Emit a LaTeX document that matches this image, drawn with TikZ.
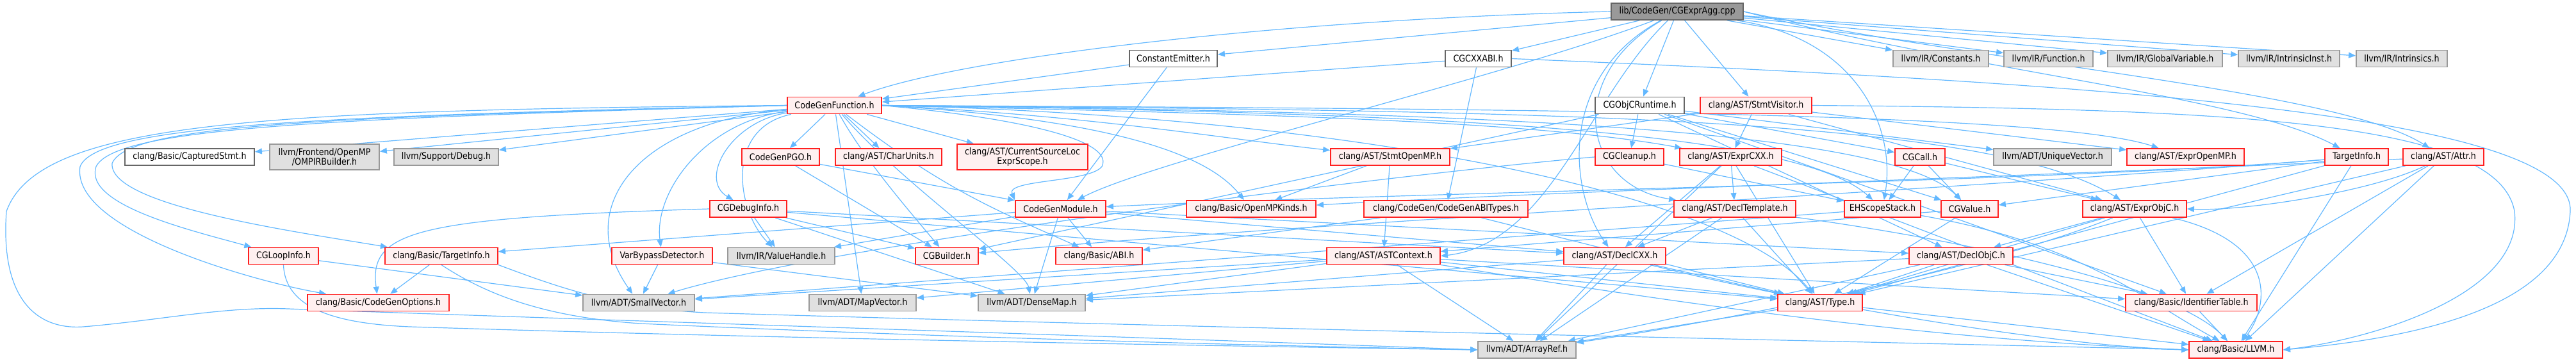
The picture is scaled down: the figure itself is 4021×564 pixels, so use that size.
\documentclass[tikz,border=0pt]{standalone}
\usepackage{fontspec}
\setmainfont{DejaVu Sans}[FakeStretch=0.88]
\usetikzlibrary{arrows.meta}
\definecolor{edgec}{HTML}{63B8FF}
\definecolor{redfill}{HTML}{FFF0F0}
\definecolor{redline}{HTML}{FF2020}
\definecolor{grayfill}{HTML}{E0E0E0}
\definecolor{grayline}{HTML}{999999}
\definecolor{darkline}{HTML}{666666}
\definecolor{rootfill}{HTML}{999999}
\pgfdeclarelayer{bg}
\pgfsetlayers{bg,main}
\begin{document}
\begin{tikzpicture}[x=0.5pt,y=-0.5pt,
 base/.style={rectangle, inner sep=0pt, minimum height=13pt, line width=0.9pt, font=\fontsize{7.2}{7.6}\selectfont, align=center},
 nred/.style={base, draw=redline, fill=redfill},
 ngray/.style={base, draw=grayline, fill=grayfill},
 nwhite/.style={base, draw=darkline, fill=white},
 nroot/.style={base, draw=darkline, fill=rootfill},
 tall/.style={minimum height=20pt},
 e/.style={draw=edgec, line width=0.6pt, -{Triangle[length=5.5pt,width=4.5pt]}}
]
\useasboundingbox (0,0) rectangle (4021,564);
% rank 0
\node[nroot, minimum width=103pt] (root) at (2618,18) {lib/CodeGen/CGExprAgg.cpp};
% rank 1
\node[nwhite, minimum width=51.5pt] (cgcxxabi) at (2307.5,91.5) {CGCXXABI.h};
\node[nwhite, minimum width=68.5pt] (constem) at (1831.5,91.5) {ConstantEmitter.h};
\node[ngray, minimum width=74.5pt] (constants) at (3029.5,91.5) {llvm/IR/Constants.h};
\node[ngray, minimum width=69.5pt] (function) at (3197.5,91.5) {llvm/IR/Function.h};
\node[ngray, minimum width=89.5pt] (globvar) at (3379.5,91.5) {llvm/IR/GlobalVariable.h};
\node[ngray, minimum width=79pt] (intrinst) at (3573,91.5) {llvm/IR/IntrinsicInst.h};
\node[ngray, minimum width=71pt] (intrinsics) at (3749,91.5) {llvm/IR/Intrinsics.h};
% rank 2
\node[nred, minimum width=73.5pt] (cgf) at (1302.5,164.5) {CodeGenFunction.h};
\node[nwhite, minimum width=69.5pt] (objcrt) at (2559.5,164.5) {CGObjCRuntime.h};
\node[nred, minimum width=87pt] (stmtvis) at (2741,164.5) {clang/AST/StmtVisitor.h};
% rank 3
\node[nwhite, minimum width=101pt] (captured) at (296,245) {clang/Basic/CapturedStmt.h};
\node[ngray, tall, minimum width=85.5pt] (ompirb) at (506.5,245) {llvm/Frontend/OpenMP\\/OMPIRBuilder.h};
\node[ngray, minimum width=81.5pt] (debug) at (696.5,245) {llvm/Support/Debug.h};
\node[nred, minimum width=60.5pt] (cgpgo) at (1218.5,245) {CodeGenPGO.h};
\node[nred, minimum width=83pt] (charunits) at (1387,245) {clang/AST/CharUnits.h};
\node[nred, tall, minimum width=102pt] (cursrc) at (1596,245) {clang/AST/CurrentSourceLoc\\ExprScope.h};
\node[nred, minimum width=93pt] (stmtomp) at (2170,245) {clang/AST/StmtOpenMP.h};
\node[nred, minimum width=53.5pt] (cgcleanup) at (2543.5,245) {CGCleanup.h};
\node[nred, minimum width=79.5pt] (exprcxx) at (2701.5,245) {clang/AST/ExprCXX.h};
\node[nred, minimum width=39pt] (cgcall) at (2997,245) {CGCall.h};
\node[ngray, minimum width=92pt] (uniquevec) at (3204,245) {llvm/ADT/UniqueVector.h};
\node[nred, minimum width=91.5pt] (expromp) at (3411.5,245) {clang/AST/ExprOpenMP.h};
\node[nred, minimum width=49.5pt] (tinfocg) at (3678.5,245) {TargetInfo.h};
\node[nred, minimum width=63pt] (attr) at (3814,245) {clang/AST/Attr.h};
% rank 4
\node[nred, minimum width=60pt] (cgdebug) at (1168,326) {CGDebugInfo.h};
\node[nred, minimum width=70.5pt] (cgm) at (1655.5,326) {CodeGenModule.h};
\node[nred, minimum width=101pt] (ompkinds) at (1953,326) {clang/Basic/OpenMPKinds.h};
\node[nred, minimum width=128pt] (cgabitypes) at (2257,326) {clang/CodeGen/CodeGenABITypes.h};
\node[nred, minimum width=95pt] (decltmpl) at (2708,326) {clang/AST/DeclTemplate.h};
\node[nred, minimum width=59.5pt] (ehss) at (2938.5,326) {EHScopeStack.h};
\node[nred, minimum width=44.5pt] (cgval) at (3074.5,326) {CGValue.h};
\node[nred, minimum width=81pt] (exprobjc) at (3332,326) {clang/AST/ExprObjC.h};
% rank 5
\node[nred, minimum width=54.5pt] (cgloop) at (442.5,399.5) {CGLoopInfo.h};
\node[nred, minimum width=88pt] (btinfo) at (689,399.5) {clang/Basic/TargetInfo.h};
\node[nred, minimum width=78.5pt] (varbypass) at (1033.5,399.5) {VarBypassDetector.h};
\node[ngray, minimum width=83.5pt] (valuehandle) at (1219.5,399.5) {llvm/IR/ValueHandle.h};
\node[nred, minimum width=49pt] (cgbuilder) at (1478,399.5) {CGBuilder.h};
\node[nred, minimum width=67.5pt] (abi) at (1715.5,399.5) {clang/Basic/ABI.h};
\node[nred, minimum width=88.5pt] (astctx) at (2159.5,399.5) {clang/AST/ASTContext.h};
\node[nred, minimum width=79.5pt] (declcxx) at (2520.5,399.5) {clang/AST/DeclCXX.h};
\node[nred, minimum width=81pt] (declobjc) at (3061,399.5) {clang/AST/DeclObjC.h};
% rank 6
\node[nred, minimum width=110.5pt] (cgopts) at (590.5,472.5) {clang/Basic/CodeGenOptions.h};
\node[ngray, minimum width=87pt] (smallvec) at (997,472.5) {llvm/ADT/SmallVector.h};
\node[ngray, minimum width=83.5pt] (mapvec) at (1346.5,472.5) {llvm/ADT/MapVector.h};
\node[ngray, minimum width=83.5pt] (densemap) at (1610.5,472.5) {llvm/ADT/DenseMap.h};
\node[nred, minimum width=66pt] (type) at (2841,472.5) {clang/AST/Type.h};
\node[nred, minimum width=102.5pt] (identtab) at (3420.5,472.5) {clang/Basic/IdentifierTable.h};
% rank 7
\node[ngray, minimum width=76.5pt] (arrayref) at (2383.5,546) {llvm/ADT/ArrayRef.h};
\node[nred, minimum width=73pt] (llvm) at (3490,546) {clang/Basic/LLVM.h};

\begin{pgfonlayer}{bg}
% root
\draw[e] (root) -- (cgcxxabi);
\draw[e] (root) -- (constem);
\draw[e] (root.west) .. controls (2000,30) and (1500,90) .. (cgf);
\draw[e] (root) .. controls (2350,120) and (1800,250) .. (cgm);
\draw[e] (root) -- (objcrt);
\draw[e] (root) -- (stmtvis);
\draw[e] (root) -- (constants);
\draw[e] (root) -- (function);
\draw[e] (root) -- (globvar);
\draw[e] (root) -- (intrinst);
\draw[e] (root) -- (intrinsics);
\draw[e] (root.east) .. controls (3100,115) and (3500,150) .. (tinfocg);
\draw[e] (root.east) .. controls (3100,100) and (3650,140) .. (attr);
\draw[e] (root) .. controls (2900,60) and (2960,200) .. (ehss);
\draw[e] (root) .. controls (2480,150) and (2420,380) .. (astctx.east);
\draw[e] (root) .. controls (2430,120) and (2450,300) .. (declcxx);
\draw[e] (root) .. controls (2440,120) and (2470,290) .. (decltmpl);
% cgcxxabi
\draw[e] (cgcxxabi) -- (cgf);
\draw[e] (cgcxxabi) -- (cgabitypes);
\draw[e] (cgcxxabi.east) .. controls (3300,130) and (4020,180) .. (4012,330) .. controls (4005,470) and (3800,525) .. (llvm.east);
% constem
\draw[e] (constem) -- (cgf);
\draw[e] (constem) -- (cgm);
% cgf
\draw[e] (cgf) -- (captured);
\draw[e] (cgf) -- (ompirb);
\draw[e] (cgf) -- (debug);
\draw[e] (cgf) -- (cgpgo);
\draw[e] (cgf) -- (charunits);
\draw[e] (cgf) -- (cursrc);
\draw[e] (cgf.west) .. controls (500,185) and (180,200) .. (150,260) .. controls (130,320) and (300,360) .. (cgloop);
\draw[e] (cgf.west) .. controls (500,183) and (200,195) .. (175,255) .. controls (170,320) and (450,360) .. (btinfo);
\draw[e] (cgf.west) .. controls (500,181) and (150,195) .. (125,260) .. controls (110,360) and (400,440) .. (cgopts);
\draw[e] (cgf.west) .. controls (400,172) and (60,190) .. (10,330) .. controls (0,470) and (60,515) .. (130,510) .. controls (250,500) and (350,478) .. (450,482) .. controls (800,495) and (1900,530) .. (arrayref.west);
\draw[e] (cgf) .. controls (1140,190) and (1090,280) .. (cgdebug);
\draw[e] (cgf) .. controls (1100,190) and (1020,300) .. (varbypass);
\draw[e] (cgf) .. controls (1130,200) and (1150,330) .. (valuehandle);
\draw[e] (cgf) .. controls (1000,190) and (890,320) .. (smallvec);
\draw[e] (cgf) -- (mapvec);
\draw[e] (cgf) .. controls (1400,280) and (1600,420) .. (densemap);
\draw[e] (cgf) .. controls (1350,250) and (1420,330) .. (cgbuilder);
\draw[e] (cgf.east) .. controls (1600,185) and (1740,220) .. (1720,260) .. controls (1700,285) and (1570,280) .. (cgm.north west);
\draw[e] (cgf) .. controls (1480,300) and (1560,330) .. (abi);
\draw[e] (cgf.east) .. controls (1800,190) and (1900,260) .. (ompkinds);
\draw[e] (cgf.east) .. controls (1700,180) and (1900,215) .. (stmtomp);
\draw[e] (cgf.east) .. controls (2000,178) and (2400,190) .. (exprcxx);
\draw[e] (cgf.east) .. controls (2200,175) and (2800,200) .. (ehss);
\draw[e] (cgf.east) .. controls (2300,174) and (2950,200) .. (cgval);
\draw[e] (cgf.east) .. controls (2400,173) and (3100,180) .. (exprobjc);
\draw[e] (cgf.east) .. controls (2400,170) and (3200,175) .. (expromp);
\draw[e] (cgf.east) .. controls (2100,180) and (2700,300) .. (type);
% objcrt
\draw[e] (objcrt) -- (cgcleanup);
\draw[e] (objcrt) -- (cgcall);
\draw[e] (objcrt) -- (uniquevec);
\draw[e] (objcrt) -- (cgval);
\draw[e] (objcrt) -- (declobjc);
\draw[e] (objcrt) -- (identtab);
\draw[e] (objcrt) -- (cgbuilder);
% stmtvis
\draw[e] (stmtvis) -- (exprcxx);
\draw[e] (stmtvis) -- (exprobjc);
\draw[e] (stmtvis) -- (expromp);
\draw[e] (stmtvis) -- (stmtomp);
\draw[e] (stmtvis.east) .. controls (3500,170) and (3900,190) .. (3925,330) .. controls (3940,460) and (3700,530) .. (llvm.east);
% cgpgo
\draw[e] (cgpgo) -- (cgbuilder);
\draw[e] (cgpgo) -- (cgm);
% cgdebug
\draw[e] (cgdebug) -- (valuehandle);
\draw[e] (cgdebug) -- (cgbuilder);
\draw[e] (cgdebug) -- (densemap);
\draw[e] (cgdebug.west) .. controls (650,340) and (575,360) .. (cgopts);
\draw[e] (cgdebug) -- (declcxx);
\draw[e] (cgdebug) -- (type);
% cgloop
\draw[e] (cgloop) -- (smallvec);
\draw[e] (cgloop.south) .. controls (445,480) and (520,505) .. (640,510) .. controls (1200,528) and (1900,540) .. (arrayref.west);
% btinfo
\draw[e] (btinfo) -- (cgopts);
\draw[e] (btinfo.south) .. controls (760,460) and (850,495) .. (1000,505) .. controls (1500,528) and (2000,540) .. (arrayref.west);
\draw[e] (btinfo.south east) .. controls (850,440) and (950,480) .. (1100,488) .. controls (2000,515) and (3000,535) .. (llvm.west);
% varbypass
\draw[e] (varbypass) -- (smallvec);
\draw[e] (varbypass) -- (densemap);
% cgm
\draw[e] (cgm) -- (abi);
\draw[e] (cgm) -- (densemap);
\draw[e] (cgm) -- (valuehandle);
\draw[e] (cgm) -- (btinfo);
\draw[e] (cgm) -- (declcxx);
\draw[e] (cgm) -- (declobjc);
% cgabitypes
\draw[e] (cgabitypes) -- (abi);
\draw[e] (cgabitypes) -- (type);
% decltmpl
\draw[e] (decltmpl) -- (declcxx);
\draw[e] (decltmpl) -- (type);
\draw[e] (decltmpl) -- (arrayref);
\draw[e] (decltmpl) .. controls (3100,380) and (3400,450) .. (llvm);
% ehss
\draw[e] (ehss) -- (smallvec);
\draw[e] (ehss) .. controls (3250,380) and (3350,470) .. (llvm);
% astctx
\draw[e] (astctx) -- (arrayref);
\draw[e] (astctx) -- (type);
\draw[e] (astctx.south east) .. controls (2600,470) and (3000,530) .. (llvm.west);
\draw[e] (astctx) -- (identtab);
\draw[e] (astctx) -- (smallvec);
\draw[e] (astctx) -- (densemap);
\draw[e] (astctx) -- (mapvec);
% declcxx
\draw[e] (declcxx) -- (arrayref);
\draw[e] (declcxx) -- (type);
\draw[e] (declcxx) .. controls (2800,470) and (3200,540) .. (llvm.west);
\draw[e] (declcxx) -- (densemap);
% type
\draw[e] (type) -- (arrayref);
\draw[e] (type) -- (llvm);
% declobjc
\draw[e] (declobjc) -- (type);
\draw[e] (declobjc) -- (identtab);
\draw[e] (declobjc) -- (llvm);
\draw[e] (declobjc) -- (arrayref);
\draw[e] (declobjc) -- (densemap);
% exprobjc
\draw[e] (exprobjc) -- (declobjc);
\draw[e] (exprobjc) -- (identtab);
\draw[e] (exprobjc) .. controls (3560,380) and (3540,480) .. (llvm);
\draw[e] (exprobjc) -- (type);
\draw[e] (exprobjc) .. controls (3100,420) and (2700,500) .. (arrayref);
% identtab
\draw[e] (identtab) -- (llvm);
% cgval
\draw[e] (cgval) -- (astctx);
\draw[e] (cgval) -- (type);
% tinfocg
\draw[e] (tinfocg) .. controls (3200,285) and (2200,300) .. (cgm);
\draw[e] (tinfocg) -- (cgval);
\draw[e] (tinfocg) -- (type);
\draw[e] (tinfocg) -- (llvm);
\draw[e] (tinfocg) .. controls (3000,300) and (2000,350) .. (cgbuilder);
% attr
\draw[e] (attr) .. controls (3300,270) and (2400,300) .. (ompkinds);
\draw[e] (attr) -- (type);
\draw[e] (attr) -- (llvm);
\draw[e] (attr) -- (identtab);
\draw[e] (attr) .. controls (3700,300) and (3500,330) .. (exprobjc.east);
% stmtomp
\draw[e] (stmtomp) -- (astctx);
\draw[e] (stmtomp) -- (ompkinds);
% cgcleanup
\draw[e] (cgcleanup) -- (ehss);
\draw[e] (cgcleanup.west) .. controls (2200,270) and (1300,380) .. (smallvec);
% exprcxx
\draw[e] (exprcxx) -- (declcxx);
\draw[e] (exprcxx) -- (decltmpl);
\draw[e] (exprcxx) -- (type);
\draw[e] (exprcxx) -- (arrayref);
\draw[e] (exprcxx) -- (llvm);
% cgcall
\draw[e] (cgcall) -- (cgval);
\draw[e] (cgcall) -- (ehss);
\draw[e] (cgcall) -- (exprobjc);
\end{pgfonlayer}
\end{tikzpicture}
\end{document}
